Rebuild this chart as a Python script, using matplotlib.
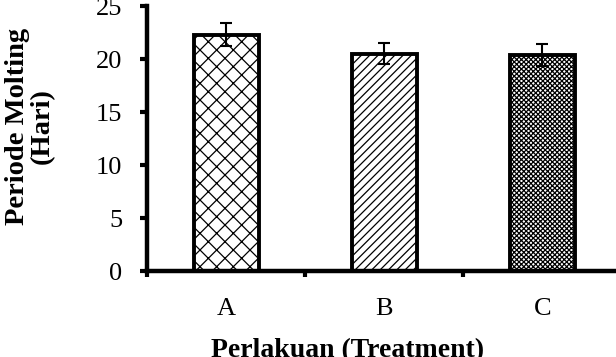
import numpy as np
import matplotlib
matplotlib.use("Agg")
import matplotlib.pyplot as plt

treatments = ['A', 'B', 'C']
molting_days = [22.3, 20.5, 20.4]
molting_err = [1.1, 1.0, 1.0]
hatches = ['xx', '////', 'xxxxxxx']

plt.rcParams['font.family'] = ['Liberation Serif', 'DejaVu Serif']
plt.rcParams['hatch.linewidth'] = 0.9

fig = plt.figure(figsize=(6.16, 3.57), dpi=100)
ax = fig.add_axes([0.239, 0.2395, 0.77, 0.7435])

x = np.arange(len(treatments))
bars = ax.bar(x, molting_days, width=0.41, color='white', edgecolor='black',
              linewidth=2.8, zorder=2)
for b, h in zip(bars, hatches):
    b.set_hatch(h)
ax.errorbar(x, molting_days, yerr=molting_err, fmt='none', ecolor='black',
            elinewidth=1.5, capsize=4.5, capthick=1.5, zorder=3)

ax.set_xlim(-0.5, 2.5)
ax.set_ylim(0, 25)
ax.set_yticks([0, 5, 10, 15, 20, 25])
ax.set_xticks(x)
ax.set_xticklabels(treatments)
ax.set_xticks([-0.5, 0.5, 1.5, 2.5], minor=True)
ax.tick_params(axis='x', which='major', length=0, pad=19, labelsize=19)
ax.tick_params(axis='x', which='minor', length=4.5, width=3, direction='out')
ax.tick_params(axis='y', length=5, width=3, direction='out', pad=13, labelsize=19)

for s in ['top', 'right']:
    ax.spines[s].set_visible(False)
for s in ['left', 'bottom']:
    ax.spines[s].set_linewidth(3.2)

# y label sits far left, two lines
ax.set_ylabel('Periode Molting\n(Hari)', fontsize=20.5, fontweight='bold',
              linespacing=1.0)
ax.yaxis.set_label_coords(-0.194, 0.548)
ax.set_xlabel('Perlakuan (Treatment)', fontsize=20, fontweight='bold')
ax.xaxis.set_label_coords(0.423, -0.25)

fig.savefig('out.png', dpi=100)
